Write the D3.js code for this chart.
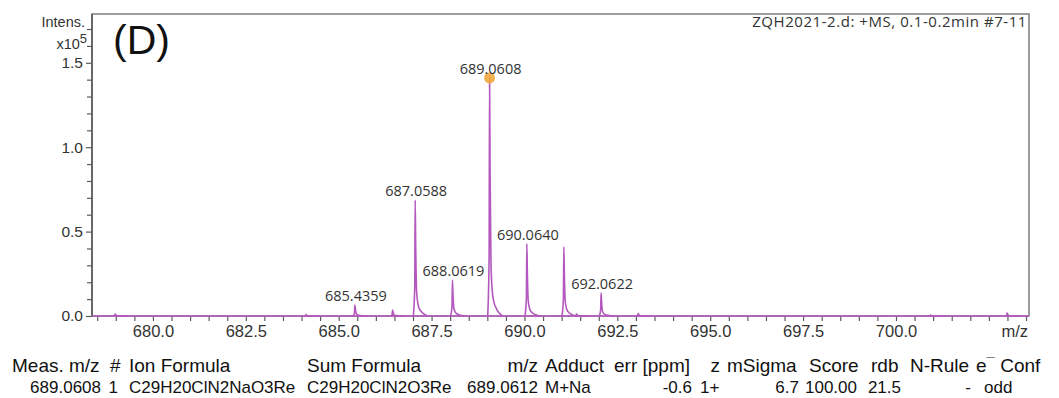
<!DOCTYPE html>
<html>
<head>
<meta charset="utf-8">
<script src="https://cdn.jsdelivr.net/npm/d3@7"></script>
<style>
  html, body { margin: 0; padding: 0; background: #fff; }
  svg { display: block; }
</style>
</head>
<body>
<svg id="chart" width="1059" height="398"></svg>
<script>
// Mass spectrum peaks (m/z, intensity in units of 10^5)
const peakMz  = [678.98, 684.12, 685.4359, 686.45, 687.0588, 688.0619, 689.0608, 690.0640, 691.06, 691.40, 692.0622, 693.06, 700.93, 702.99];
const peakInt = [0.012, 0.008, 0.065, 0.035, 0.687, 0.213, 1.41, 0.427, 0.41, 0.012, 0.136, 0.015, 0.006, 0.018];

// Annotated peaks
const labelMz = [685.4359, 687.0588, 688.0619, 689.0608, 690.0640, 692.0622];
const labelText = ["685.4359", "687.0588", "688.0619", "689.0608", "690.0640", "692.0622"];

// Highlighted (monoisotopic) peak
const markerMz = [689.0608];

// Axis ticks
const xMajorTicks = [680.0, 682.5, 685.0, 687.5, 690.0, 692.5, 695.0, 697.5, 700.0];
const yMajorTicks = [0.0, 0.5, 1.0, 1.5];

// Formula result table
const tableHeaders = ["Meas. m/z", "#", "Ion Formula", "Sum Formula", "m/z", "Adduct", "err [ppm]", "z", "mSigma", "Score", "rdb", "N-Rule", "e", "Conf"];
const tableValues  = ["689.0608", "1", "C29H20ClN2NaO3Re", "C29H20ClN2O3Re", "689.0612", "M+Na", "-0.6", "1+", "6.7", "100.00", "21.5", "-", "odd"];

const titleText = "ZQH2021-2.d: +MS, 0.1-0.2min #7-11";

// ---- layout ----
const W = 1059, H = 398;
const plot = { left: 92, right: 1029, top: 14, bottom: 316 };

const svg = d3.select("#chart");
svg.append("rect").attr("width", W).attr("height", H).attr("fill", "#fff");

const x = d3.scaleLinear().domain([678.36, 703.58]).range([plot.left, plot.right]);
const y = d3.scaleLinear().domain([0, 1.789]).range([plot.bottom, plot.top]);

const axisColor = "#5a5a5a";
const traceColor = "#b457be";
const sans = "Liberation Sans, Arial, sans-serif";

// ---- axes ----
const minorX = d3.range(678.5, 703.6, 0.5).filter(v => !xMajorTicks.some(t => Math.abs(t - v) < 1e-6));
const minorY = d3.range(0.1, 1.75, 0.1).filter(v => !yMajorTicks.some(t => Math.abs(t - v) < 1e-6));

const gx = svg.append("g").attr("transform", `translate(0,${plot.bottom})`);
gx.call(d3.axisBottom(x).tickValues(minorX).tickSize(5).tickFormat(""));
gx.append("g").call(d3.axisBottom(x).tickValues(xMajorTicks).tickSize(5).tickPadding(4).tickFormat(d3.format(".1f")));
gx.selectAll(".domain").remove();
gx.selectAll("line").attr("stroke", axisColor).attr("stroke-width", 1.2);
gx.selectAll("text").attr("font-family", sans).attr("font-size", 16.5).attr("fill", "#333");

const gy = svg.append("g").attr("transform", `translate(${plot.left},0)`);
gy.call(d3.axisLeft(y).tickValues(minorY).tickSize(5).tickFormat(""));
gy.append("g").call(d3.axisLeft(y).tickValues(yMajorTicks).tickSize(6).tickPadding(3).tickFormat(d3.format(".1f")));
gy.selectAll(".domain").remove();
gy.selectAll("line").attr("stroke", axisColor).attr("stroke-width", 1.2);
gy.selectAll("text").attr("font-family", sans).attr("font-size", 15.5).attr("fill", "#333");

// frame
svg.append("rect")
  .attr("x", plot.left).attr("y", plot.top)
  .attr("width", plot.right - plot.left).attr("height", plot.bottom - plot.top)
  .attr("fill", "none").attr("stroke", "#7d7d7d").attr("stroke-width", 1.5);
svg.append("line")
  .attr("x1", plot.left).attr("x2", plot.left).attr("y1", plot.top).attr("y2", plot.bottom)
  .attr("stroke", axisColor).attr("stroke-width", 1.6);

// ---- spectrum trace ----
svg.append("clipPath").attr("id", "plotclip").append("rect")
  .attr("x", plot.left).attr("y", plot.top - 10)
  .attr("width", plot.right - plot.left).attr("height", plot.bottom - plot.top + 12);

const trace = svg.append("g").attr("clip-path", "url(#plotclip)");

// baseline of the profile
trace.append("line")
  .attr("x1", x(678.36)).attr("x2", x(703.58))
  .attr("y1", y(0)).attr("y2", y(0))
  .attr("stroke", traceColor).attr("stroke-width", 1.3);

// each profile peak: sharp front edge with a tailing back edge
const line = d3.line().x(d => x(d[0])).y(d => y(d[1])).curve(d3.curveMonotoneX);
peakMz.forEach((mz, i) => {
  const h = peakInt[i];
  const pts = [
    [mz - 0.05, 0],
    [mz - 0.012, h * 0.25],
    [mz, h],
    [mz + 0.014, h * 0.6],
    [mz + 0.04, h * 0.2],
    [mz + 0.1, h * 0.07],
    [mz + 0.22, h * 0.02],
    [mz + 0.35, 0]
  ];
  trace.append("path")
    .attr("d", line(pts))
    .attr("fill", "none")
    .attr("stroke", traceColor)
    .attr("stroke-width", 1.6)
    .attr("stroke-linejoin", "round");
});

// marker on the most intense peak
markerMz.forEach(mz => {
  const i = peakMz.indexOf(mz);
  svg.append("circle")
    .attr("cx", x(mz)).attr("cy", y(peakInt[i]))
    .attr("r", 5.5)
    .attr("fill", "#f2a73b")
    .attr("opacity", 0.9);
});

// peak labels
labelMz.forEach((mz, k) => {
  const i = peakMz.indexOf(mz);
  svg.append("text")
    .attr("x", x(mz) + 1)
    .attr("y", y(peakInt[i]) - 4)
    .attr("text-anchor", "middle")
    .attr("font-family", "Open Sans, sans-serif")
    .attr("font-size", 14.5)
    .attr("fill", "#333")
    .text(labelText[k]);
});

// ---- annotation text ----
svg.append("text")
  .attr("x", 1027).attr("y", 27)
  .attr("text-anchor", "end")
  .attr("font-family", "Open Sans, sans-serif")
  .attr("font-size", 15)
  .attr("letter-spacing", 0.55)
  .attr("fill", "#333")
  .text(titleText);

svg.append("text")
  .attr("x", 113).attr("y", 54)
  .attr("font-family", sans)
  .attr("font-size", 41)
  .attr("fill", "#111")
  .text("(D)");

svg.append("text")
  .attr("x", 85).attr("y", 27)
  .attr("text-anchor", "end")
  .attr("font-family", sans)
  .attr("font-size", 14.5)
  .attr("fill", "#333")
  .text("Intens.");

const expo = svg.append("text")
  .attr("x", 87).attr("y", 49)
  .attr("text-anchor", "end")
  .attr("font-family", sans)
  .attr("font-size", 14.5)
  .attr("fill", "#333");
expo.append("tspan").text("x10");
expo.append("tspan").attr("dy", -6).attr("font-size", 13).text("5");

svg.append("text")
  .attr("x", 1028).attr("y", 337)
  .attr("text-anchor", "end")
  .attr("font-family", sans)
  .attr("font-size", 16.5)
  .attr("fill", "#333")
  .text("m/z");

// ---- result table ----
const headerPos = [[12, "start"], [110, "start"], [129, "start"], [307, "start"], [538, "end"], [545, "start"],
                   [614, "start"], [720, "end"], [727, "start"], [809, "start"], [871, "start"], [910, "start"]];
const header = svg.append("g")
  .attr("font-family", sans).attr("font-size", 19).attr("fill", "#111");
headerPos.forEach((p, i) => {
  header.append("text").attr("x", p[0]).attr("y", 372).attr("text-anchor", p[1]).text(tableHeaders[i]);
});
const eConf = header.append("text").attr("x", 976).attr("y", 372);
eConf.append("tspan").text(tableHeaders[12]);
eConf.append("tspan").attr("dy", -4).attr("font-size", 15).text("\u00af");
eConf.append("tspan").attr("dy", 4).text(" " + tableHeaders[13]);

const valuePos = [[101, "end"], [118, "end"], [129, "start"], [307, "start"], [538, "end"], [545, "start"],
                  [692, "end"], [700, "start"], [799, "end"], [857, "end"], [901, "end"], [971, "end"], [984, "start"]];
const values = svg.append("g")
  .attr("font-family", sans).attr("font-size", 17).attr("fill", "#111");
valuePos.forEach((p, i) => {
  values.append("text").attr("x", p[0]).attr("y", 393).attr("text-anchor", p[1]).text(tableValues[i]);
});
</script>
</body>
</html>
